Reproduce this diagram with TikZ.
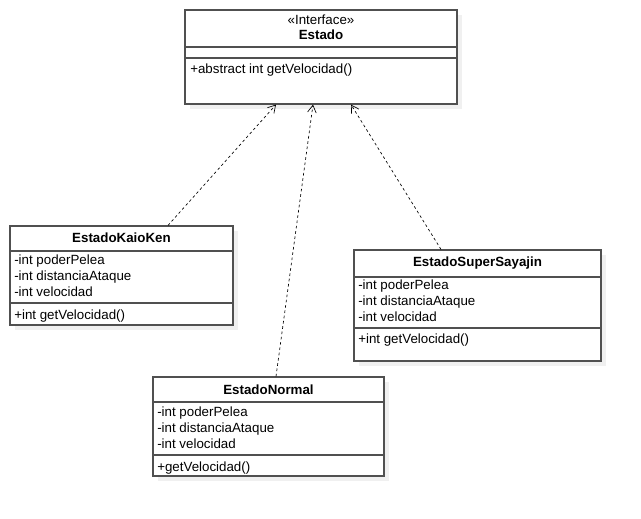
\documentclass[tikz,border=0pt]{standalone}
\usepackage{fontspec}
\setmainfont{Liberation Sans}
\usetikzlibrary{arrows.meta, positioning, fit, shadows}
\definecolor{umlborder}{RGB}{80, 80, 80}
\definecolor{umlshadow}{RGB}{240, 240, 240}

\begin{document}
\begin{tikzpicture}[x=0.75pt, y=-0.75pt,
    classbox/.style={draw=umlborder, line width=0.9pt, fill=white, inner sep=0pt,
        drop shadow={shadow xshift=3.75pt, shadow yshift=-3.75pt, fill=umlshadow, opacity=1}},
    classline/.style={draw=umlborder, line width=0.9pt},
    classname/.style={font=\fontsize{10}{12}\selectfont\bfseries, inner sep=0pt},
    stereo/.style={font=\fontsize{10}{12}\selectfont, inner sep=0pt},
    members/.style={font=\fontsize{10}{12}\selectfont, align=left, anchor=north west, inner sep=0pt},
    realize/.style={dashed, dash pattern=on 2pt off 2pt, line width=0.5pt,
        -{Straight Barb[length=5.5pt, width=6.5pt]}}]
\useasboundingbox (0,0) rectangle (641,518);

% Interface
\node[classbox, fit={(185,10) (457,104)}] (estado) {};
\node[stereo] (estadoStereo) at (321,20) {«Interface»};
\node[classname] (estadoName) at (321,35) {Estado};
\draw[classline] (185,47) -- (457,47);
\draw[classline] (185,58) -- (457,58);
\node[members] (estadoOps) at (190,64) {+abstract int getVelocidad()};

% States
\node[classbox, fit={(10,226) (233,325)}] (kaioken) {};
\node[classname] (kaiokenName) at (121.5,238) {EstadoKaioKen};
\draw[classline] (10,251) -- (233,251);
\node[members] (kaiokenAttrs) at (14,255) {-int poderPelea\\-int distanciaAtaque\\-int velocidad};
\draw[classline] (10,303) -- (233,303);
\node[members] (kaiokenOps) at (14,310) {+int getVelocidad()};

\node[classbox, fit={(354,250) (601,361)}] (super) {};
\node[classname] (superName) at (477.5,263) {EstadoSuperSayajin};
\draw[classline] (354,277) -- (601,277);
\node[members] (superAttrs) at (358,280) {-int poderPelea\\-int distanciaAtaque\\-int velocidad};
\draw[classline] (354,328) -- (601,328);
\node[members] (superOps) at (358,334) {+int getVelocidad()};

\node[classbox, fit={(153,377) (384,476)}] (normal) {};
\node[classname] (normalName) at (268.5,390) {EstadoNormal};
\draw[classline] (153,402) -- (384,402);
\node[members] (normalAttrs) at (157,407) {-int poderPelea\\-int distanciaAtaque\\-int velocidad};
\draw[classline] (153,455) -- (384,455);
\node[members] (normalOps) at (157,462) {+getVelocidad()};

% Realizations
\draw[realize] (kaioken.north -| 168,0) -- (estado.south -| 276,0);
\draw[realize] (normal.north -| 276,0) -- (estado.south -| 313,0);
\draw[realize] (super.north -| 441,0) -- (estado.south -| 351,0);
\end{tikzpicture}
\end{document}
